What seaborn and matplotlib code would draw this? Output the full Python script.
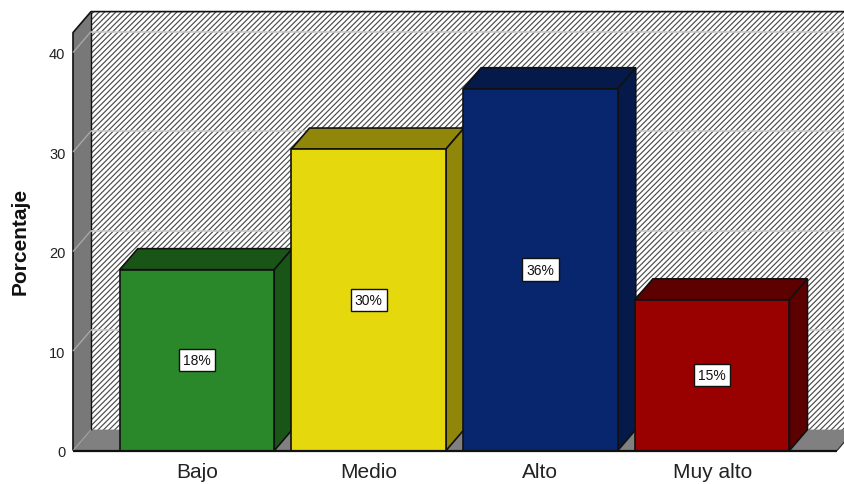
import matplotlib
matplotlib.use("Agg")
import matplotlib.pyplot as plt
from matplotlib.patches import Polygon
import pandas as pd
import seaborn as sns

categories = ["Bajo", "Medio", "Alto", "Muy alto"]
percentages = [18.18, 30.30, 36.36, 15.15]
front_colors = ["#2A882A", "#E5D80C", "#08266E", "#990000"]
side_colors = ["#1A5518", "#8F860A", "#051A4A", "#5C0000"]
y_ticks = [0, 10, 20, 30, 40]

sns.set_theme(style="white")
plt.rcParams["font.family"] = ["Liberation Sans", "DejaVu Sans"]
plt.rcParams["hatch.linewidth"] = 0.85

W, H = 845, 485
fig = plt.figure(figsize=(W / 100, H / 100), dpi=100, facecolor="white")
ax = fig.add_axes([73 / W, (H - 451.6) / H, (837 - 73) / W, (451.6 - 33.6) / H])

frame = pd.DataFrame({"nivel": categories, "porcentaje": percentages})
sns.barplot(
    data=frame, x="nivel", y="porcentaje", hue="nivel", order=categories,
    hue_order=categories, palette=front_colors, width=0.9, legend=False,
    dodge=False, edgecolor="#111111", linewidth=1.2, saturation=1, ax=ax, zorder=5,
)

X0, X1 = -0.722, 3.727
Y0, Y1 = 0, 42.0
ax.set_xlim(X0, X1)
ax.set_ylim(Y0, Y1)

# Depth of the pseudo-3D box, in data units
DX, DY = 0.105, 2.11
EDGE = "#111111"


def face(points, color, z, lw=1.2, edge=EDGE, **kw):
    ax.add_patch(Polygon(points, closed=True, facecolor=color, edgecolor=edge,
                         linewidth=lw, zorder=z, clip_on=False, **kw))


def edge_line(xs, ys, color=EDGE, lw=1.2, z=3):
    ax.plot(xs, ys, color=color, lw=lw, zorder=z, clip_on=False, solid_capstyle="butt")


# Back wall, floor and left wall
face([(X0 + DX, DY), (X1 + DX, DY), (X1 + DX, Y1 + DY), (X0 + DX, Y1 + DY)],
     "white", 1, lw=0, edge="#4a4a4a", hatch="//////")
face([(X0, 0), (X1, 0), (X1 + DX, DY), (X0 + DX, DY)], "#808080", 2, lw=0, edge="none")
face([(X0, 0), (X0 + DX, DY), (X0 + DX, Y1 + DY), (X0, Y1)], "#787878", 2, lw=0, edge="none")
edge_line([X0, X0, X0 + DX, X1 + DX], [0, Y1, Y1 + DY, Y1 + DY])
edge_line([X0 + DX, X0 + DX], [DY, Y1 + DY], lw=1.0)
edge_line([X0, X0 + DX], [0, DY], color="#a0a0a0", lw=0.8)
edge_line([X1, X1 + DX], [0, DY], color="#333333", lw=0.9)

# Gridlines run along the left wall and across the back wall
for t in y_ticks[1:]:
    edge_line([X0, X0 + DX], [t, t + DY], color="#a8a8a8", lw=1.0)
    edge_line([X0 + DX, X1 + DX], [t + DY, t + DY], color="#c8c8c8", lw=1.1)

# Top and side faces of every bar, then its value tag
for bar, side, value in zip(ax.patches[:len(categories)], side_colors, percentages):
    x, w, h = bar.get_x(), bar.get_width(), bar.get_height()
    face([(x, h), (x + w, h), (x + w + DX, h + DY), (x + DX, h + DY)], side, 4)
    face([(x + w, 0), (x + w + DX, DY), (x + w + DX, h + DY), (x + w, h)], side, 4)
    ax.text(x + w / 2, h / 2, f"{value:.0f}%", ha="center", va="center",
            fontsize=10, color="#111111", zorder=7,
            bbox=dict(boxstyle="square,pad=0.3", facecolor="white",
                      edgecolor=EDGE, linewidth=1.0))

sns.despine(ax=ax, left=True, bottom=True, top=True, right=True)
ax.patch.set_visible(False)
edge_line([X0, X1], [0, 0], lw=1.6, z=6)

ax.set_yticks(y_ticks)
ax.set_yticklabels([str(t) for t in y_ticks], fontsize=10.5, color="#222222")
ax.set_xticks(range(len(categories)))
ax.set_xticklabels(categories, fontsize=15, color="#222222")
ax.tick_params(axis="both", length=0)
ax.tick_params(axis="y", pad=5.5)
ax.tick_params(axis="x", pad=8)
ax.set_xlabel("")
ax.set_ylabel("")
fig.text(20 / W, (H - 241.5) / H, "Porcentaje", rotation=90, ha="center", va="center",
         fontsize=15, fontweight="bold", color="#111111")

fig.savefig("out.png", dpi=100)
